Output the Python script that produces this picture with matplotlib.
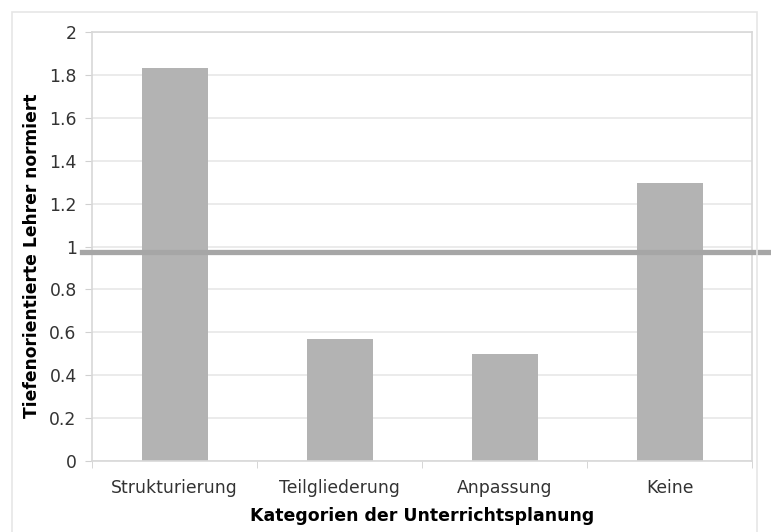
import matplotlib
matplotlib.use("Agg")
import matplotlib.pyplot as plt
from matplotlib.patches import Rectangle

plt.rcParams["font.family"] = ["DejaVu Sans"]

# data
categories = ["Strukturierung", "Teilgliederung", "Anpassung", "Keine"]
values = [1.83, 0.57, 0.50, 1.295]
reference_level = 0.975
y_ticks = [0, 0.2, 0.4, 0.6, 0.8, 1, 1.2, 1.4, 1.6, 1.8, 2]
y_tick_labels = ["0", "0.2", "0.4", "0.6", "0.8", "1", "1.2", "1.4", "1.6", "1.8", "2"]

W, H = 771, 532
fig = plt.figure(figsize=(W / 100, H / 100), dpi=100)

# light outer frame of the chart object
fig.add_artist(Rectangle((12 / W, -0.01), (757 - 12) / W, (H - 12) / H + 0.01,
                         transform=fig.transFigure, fill=False,
                         edgecolor="#e6e6e6", linewidth=1.2))

ax = fig.add_axes([92 / W, (H - 461) / H, (752 - 92) / W, (461 - 32) / H])

x = range(len(categories))
ax.bar(x, values, width=0.4, color="#b3b3b3", zorder=2)

ax.set_xlim(-0.5, len(categories) - 0.5)
ax.set_ylim(0, 2)
ax.set_yticks(y_ticks)
ax.set_yticklabels(y_tick_labels)
ax.set_xticks(list(x))
ax.set_xticklabels(categories)

# category separators as bottom ticks
ax.set_xticks([i - 0.5 for i in range(len(categories) + 1)], minor=True)
ax.tick_params(axis="x", which="major", length=0, pad=13)
ax.tick_params(axis="x", which="minor", length=5, color="#d0d0d0")
ax.tick_params(axis="y", length=5, color="#d0d0d0", pad=6)
ax.tick_params(labelsize=12.4, labelcolor="#333333")

ax.grid(axis="y", color="#e8e8e8", linewidth=1.2, zorder=0)
ax.set_axisbelow(True)
for s in ax.spines.values():
    s.set_color("#d8d8d8")
    s.set_linewidth(1.2)

# reference line, drawn past the plot area
ax.axhline(reference_level, xmin=-0.015, xmax=1.04, color="#a6a6a6",
           linewidth=3.8, clip_on=False, zorder=3)

ax.set_xlabel("Kategorien der Unterrichtsplanung", fontsize=12.5,
              fontweight="bold", labelpad=7)
ax.set_ylabel("Tiefenorientierte Lehrer normiert", fontsize=12.3,
              fontweight="bold")
ax.yaxis.set_label_coords(-0.078, 0.478)

fig.savefig("out.png", dpi=100)
